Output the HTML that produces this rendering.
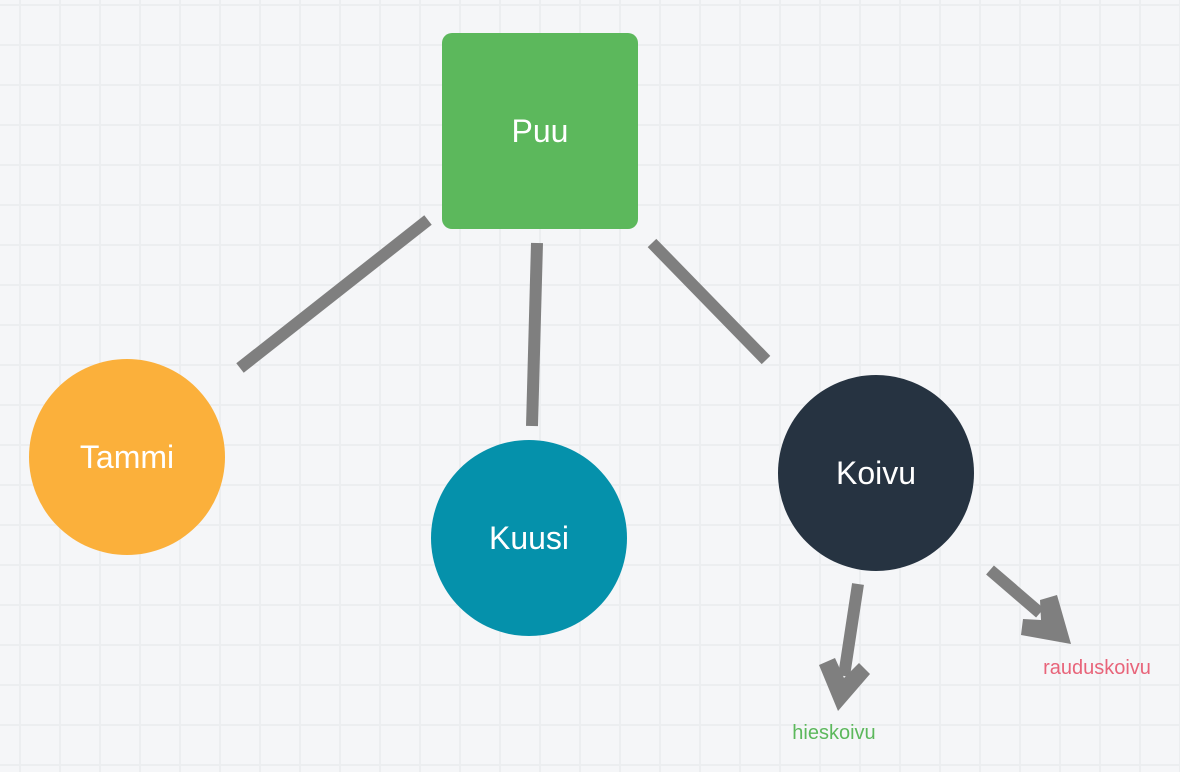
<!DOCTYPE html>
<html><head><meta charset="utf-8"><style>
html,body{margin:0;padding:0}
body{width:1180px;height:772px;overflow:hidden;background:#f5f6f8}
</style></head><body>
<svg width="1180" height="772" xmlns="http://www.w3.org/2000/svg" style="display:block">
<defs>
<pattern id="g" width="40" height="40" patternUnits="userSpaceOnUse" x="19" y="4">
<rect width="40" height="40" fill="#f5f6f8"/>
<rect x="0" y="0" width="2" height="40" fill="#eceef0"/>
<rect x="0" y="0" width="40" height="2" fill="#eceef0"/>
</pattern>
</defs>
<rect width="1180" height="772" fill="url(#g)"/>
<g stroke="#7f7f7f" stroke-width="12" fill="none">
<line x1="240" y1="368" x2="428" y2="220"/>
<line x1="537" y1="243" x2="532" y2="426"/>
<line x1="652" y1="243" x2="766" y2="360"/>
<line x1="858" y1="584" x2="844" y2="676"/>
<line x1="990" y1="570" x2="1040" y2="613"/>
</g>
<polygon points="819,665 835,658 844,678 859,663 870,674 838,711" fill="#7f7f7f"/>
<polygon points="1021,635 1023,619 1041,620 1040,600 1057,595 1071,644" fill="#7f7f7f"/>
<rect x="442" y="33" width="196" height="196" rx="10" fill="#5cb85c"/>
<circle cx="127" cy="457" r="98" fill="#fbb03b"/>
<circle cx="529" cy="538" r="98" fill="#0591ab"/>
<circle cx="876" cy="473" r="98" fill="#263341"/>
<g font-family="Liberation Sans, sans-serif" font-size="32" fill="#fff" text-anchor="middle">
<text x="540" y="142">Puu</text>
<text x="127" y="468">Tammi</text>
<text x="529" y="549">Kuusi</text>
<text x="876" y="484">Koivu</text>
</g>
<g font-family="Liberation Sans, sans-serif" font-size="20" text-anchor="middle">
<text x="834" y="739" fill="#5cb85c">hieskoivu</text>
<text x="1097" y="674" fill="#e8647a">rauduskoivu</text>
</g>
</svg>
</body></html>
